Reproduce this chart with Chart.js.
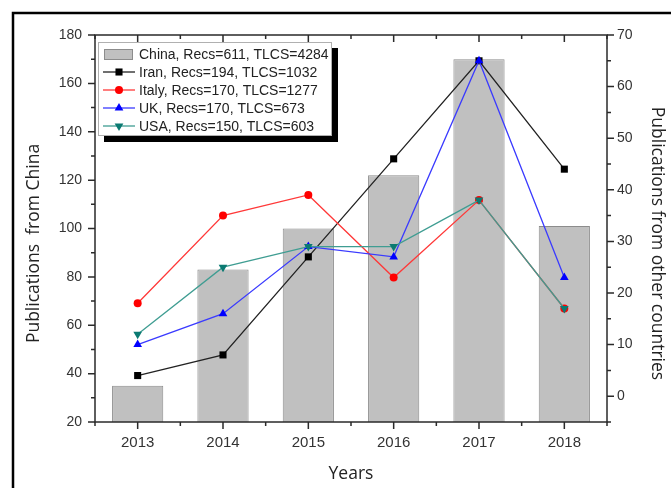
<!DOCTYPE html>
<html>
<head>
<meta charset="utf-8">
<script src="https://cdn.jsdelivr.net/npm/chart.js@4"></script>
<style>
html, body { margin: 0; padding: 0; background: #fff; }
#wrap { width: 671px; height: 488px; }
</style>
</head>
<body>
<div id="wrap"><canvas id="pubChart" width="671" height="488"></canvas></div>
<script>
const years = ['2013', '2014', '2015', '2016', '2017', '2018'];
const china = [35, 83, 100, 122, 170, 101];
const iran = [4, 8, 27, 46, 65, 44];
const italy = [18, 35, 39, 23, 38, 17];
const uk = [10, 16, 29, 27, 65, 23];
const usa = [12, 25, 29, 29, 38, 17];
const leftTicks = [20, 40, 60, 80, 100, 120, 140, 160, 180];
const rightTicks = [0, 10, 20, 30, 40, 50, 60, 70];
const legendLabels = [
    'China, Recs=611, TLCS=4284',
    'Iran, Recs=194, TLCS=1032',
    'Italy, Recs=170, TLCS=1277',
    'UK, Recs=170, TLCS=673',
    'USA, Recs=150, TLCS=603'
];

const FONT = '"Liberation Sans", Arial, sans-serif';
const TITLE_FONT = '"Open Sans", "Liberation Sans", sans-serif';

// small marker drawer for the hand-made legend
function drawMarker(ctx, style, x, y, r) {
    ctx.beginPath();
    if (style === 'rect') {
        const s = r * Math.SQRT1_2;
        ctx.rect(x - s, y - s, 2 * s, 2 * s);
    } else if (style === 'circle') {
        ctx.arc(x, y, r, 0, Math.PI * 2);
    } else if (style === 'triangle') {
        ctx.moveTo(x, y - r);
        ctx.lineTo(x + r * 0.87, y + r * 0.5);
        ctx.lineTo(x - r * 0.87, y + r * 0.5);
        ctx.closePath();
    } else if (style === 'triangleDown') {
        ctx.moveTo(x, y + r);
        ctx.lineTo(x + r * 0.87, y - r * 0.5);
        ctx.lineTo(x - r * 0.87, y - r * 0.5);
        ctx.closePath();
    }
    ctx.fill();
}

const originFrame = {
    id: 'originFrame',
    afterDraw(chart) {
        const ctx = chart.ctx;
        const area = chart.chartArea;
        const sx = chart.scales.x, sy = chart.scales.y, sy2 = chart.scales.y2;
        ctx.save();

        // outer figure frame
        ctx.strokeStyle = '#000';
        ctx.lineWidth = 2.5;
        ctx.beginPath();
        ctx.moveTo(13, 488);
        ctx.lineTo(13, 13);
        ctx.lineTo(671, 13);
        ctx.stroke();

        // axes box
        ctx.strokeStyle = '#2a2a2a';
        ctx.lineWidth = 1.5;
        ctx.strokeRect(area.left, area.top, area.right - area.left, area.bottom - area.top);

        ctx.beginPath();
        // left axis ticks (outward)
        leftTicks.forEach((v, i) => {
            const p = sy.getPixelForValue(v);
            ctx.moveTo(area.left - 7, p); ctx.lineTo(area.left, p);
            if (i < leftTicks.length - 1) {
                const m = sy.getPixelForValue(v + 10);
                ctx.moveTo(area.left - 4, m); ctx.lineTo(area.left, m);
            }
        });
        // right axis ticks (outward)
        rightTicks.forEach(v => {
            const p = sy2.getPixelForValue(v);
            ctx.moveTo(area.right, p); ctx.lineTo(area.right + 7, p);
            const m = sy2.getPixelForValue(v - 5);
            ctx.moveTo(area.right, m); ctx.lineTo(area.right + 4, m);
        });
        // bottom (outward) and top (inward) ticks
        years.forEach((y, i) => {
            const p = sx.getPixelForValue(i);
            ctx.moveTo(p, area.bottom); ctx.lineTo(p, area.bottom + 7);
            ctx.moveTo(p, area.top); ctx.lineTo(p, area.top + 7);
        });
        for (let i = 0; i <= years.length; i++) {
            const m = sx.getPixelForValue(i - 0.5);
            ctx.moveTo(m, area.bottom); ctx.lineTo(m, area.bottom + 4);
            ctx.moveTo(m, area.top); ctx.lineTo(m, area.top + 4);
        }
        ctx.stroke();

        // axis titles
        ctx.fillStyle = '#222';
        ctx.font = '17.5px ' + TITLE_FONT;
        ctx.textAlign = 'center';
        ctx.textBaseline = 'middle';
        const midY = (area.top + area.bottom) / 2 + 15;
        ctx.save();
        ctx.translate(34, midY);
        ctx.rotate(-Math.PI / 2);
        ctx.fillText('Publications  from China', 0, 0);
        ctx.restore();
        ctx.save();
        ctx.translate(657, midY);
        ctx.rotate(Math.PI / 2);
        ctx.fillText('Publications from other countries', 0, 0);
        ctx.restore();
        ctx.fillText('Years', (area.left + area.right) / 2, 474);

        // legend with shadow
        const lx = 98, ly = 42, lw = 234, lh = 94;
        ctx.fillStyle = '#000';
        ctx.fillRect(lx + 6, ly + 6, lw, lh);
        ctx.fillStyle = '#fff';
        ctx.fillRect(lx, ly, lw, lh);
        ctx.strokeStyle = '#b0b0b0';
        ctx.lineWidth = 1;
        ctx.strokeRect(lx + 0.5, ly + 0.5, lw - 1, lh - 1);

        ctx.font = '14px ' + FONT;
        ctx.textAlign = 'left';
        chart.data.datasets.forEach((ds, i) => {
            const cy = ly + 12 + i * 18;
            if (ds.type === 'bar') {
                ctx.fillStyle = ds.backgroundColor;
                ctx.fillRect(104, cy - 5, 29, 11);
                ctx.strokeStyle = ds.borderColor;
                ctx.strokeRect(104.5, cy - 4.5, 28, 10);
            } else {
                ctx.strokeStyle = ds.borderColor;
                ctx.lineWidth = 1.3;
                ctx.beginPath();
                ctx.moveTo(103, cy); ctx.lineTo(135, cy);
                ctx.stroke();
                ctx.fillStyle = ds.pointBackgroundColor;
                const st = ds.pointRotation === 180 ? 'triangleDown' : ds.pointStyle;
                drawMarker(ctx, st, 119, cy, ds.pointRadius);
            }
            ctx.fillStyle = '#222';
            ctx.fillText(legendLabels[i], 139, cy + 1);
        });

        ctx.restore();
    }
};

function lineSet(label, data, line, mark, style, r, rot, order) {
    return {
        type: 'line',
        label: label,
        data: data,
        yAxisID: 'y2',
        borderColor: line,
        borderWidth: 1.3,
        pointStyle: style,
        pointRadius: r,
        pointRotation: rot,
        pointBackgroundColor: mark,
        pointBorderColor: mark,
        pointBorderWidth: 0,
        tension: 0,
        order: order
    };
}

const tickFont = { family: FONT, size: 14 };

new Chart(document.getElementById('pubChart').getContext('2d'), {
    data: {
        labels: years,
        datasets: [
            {
                type: 'bar',
                label: 'China',
                data: china,
                yAxisID: 'y',
                backgroundColor: '#c0c0c0',
                borderColor: '#8c8c8c',
                borderWidth: 1,
                barPercentage: 0.6,
                categoryPercentage: 1.0,
                order: 5
            },
            lineSet('Iran', iran, '#222222', '#000000', 'rect', 5, 0, 4),
            lineSet('Italy', italy, '#ff3838', '#ff0000', 'circle', 4, 0, 3),
            lineSet('UK', uk, '#3a3aff', '#0000ff', 'triangle', 5, 0, 2),
            lineSet('USA', usa, '#3f9d92', '#0b7a72', 'triangle', 5, 180, 1)
        ]
    },
    options: {
        responsive: false,
        animation: false,
        layout: { padding: { top: 35, left: 0, right: 0, bottom: 0 } },
        plugins: {
            legend: { display: false },
            tooltip: { enabled: false }
        },
        scales: {
            x: {
                type: 'category',
                offset: true,
                grid: { display: false, drawTicks: false },
                border: { display: false },
                ticks: { font: { family: FONT, size: 15 }, color: '#333', padding: 12, maxRotation: 0 },
                afterFit: function(scale) { scale.height = 66; }
            },
            y: {
                type: 'linear',
                position: 'left',
                min: 20,
                max: 180,
                afterBuildTicks: function(scale) { scale.ticks = leftTicks.map(v => ({ value: v })); },
                grid: { display: false, drawTicks: false },
                border: { display: false },
                ticks: { font: tickFont, color: '#333', padding: 13 },
                afterFit: function(scale) { scale.width = 95; }
            },
            y2: {
                type: 'linear',
                position: 'right',
                min: -5,
                max: 70,
                afterBuildTicks: function(scale) { scale.ticks = rightTicks.map(v => ({ value: v })); },
                grid: { display: false, drawTicks: false },
                border: { display: false },
                ticks: { font: tickFont, color: '#333', padding: 10 },
                afterFit: function(scale) { scale.width = 64; }
            }
        }
    },
    plugins: [originFrame]
});
</script>
</body>
</html>
